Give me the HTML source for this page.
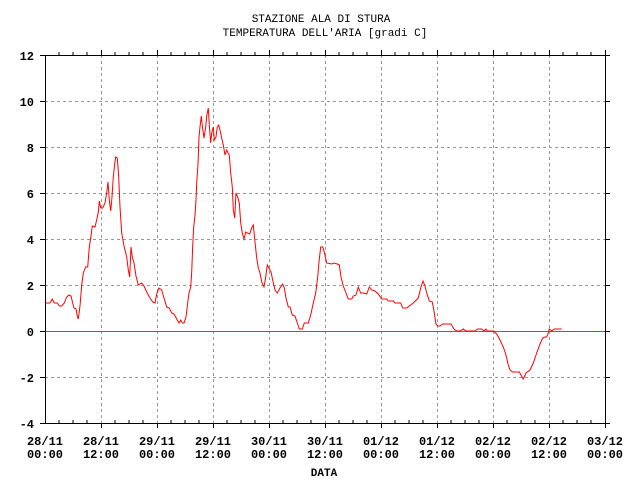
<!DOCTYPE html>
<html><head><meta charset="utf-8"><style>
html,body{margin:0;padding:0;background:#fff;}
svg{display:block;}
text{font-family:"Liberation Mono","DejaVu Sans Mono",monospace;font-size:12px;fill:#000;font-weight:bold;}
</style></head><body>
<svg width="640" height="480" viewBox="0 0 640 480" xmlns="http://www.w3.org/2000/svg">
<rect width="640" height="480" fill="#fff"/>
<text x="321" y="22" text-anchor="middle" style="font-size:11px;font-weight:normal">STAZIONE ALA DI STURA</text>
<text x="325" y="36" text-anchor="middle" style="font-size:11px;font-weight:normal">TEMPERATURA DELL'ARIA [gradi C]</text>
<g stroke="#999" stroke-width="1" stroke-dasharray="3,3">
<line x1="45" y1="101.5" x2="605" y2="101.5"/><line x1="45" y1="147.5" x2="605" y2="147.5"/>
<line x1="45" y1="193.5" x2="605" y2="193.5"/><line x1="45" y1="239.5" x2="605" y2="239.5"/>
<line x1="45" y1="285.5" x2="605" y2="285.5"/><line x1="45" y1="377.5" x2="605" y2="377.5"/>
<line x1="101.5" y1="55" x2="101.5" y2="423"/><line x1="157.5" y1="55" x2="157.5" y2="423"/>
<line x1="213.5" y1="55" x2="213.5" y2="423"/><line x1="269.5" y1="55" x2="269.5" y2="423"/>
<line x1="325.5" y1="55" x2="325.5" y2="423"/><line x1="381.5" y1="55" x2="381.5" y2="423"/>
<line x1="437.5" y1="55" x2="437.5" y2="423"/><line x1="493.5" y1="55" x2="493.5" y2="423"/>
<line x1="549.5" y1="55" x2="549.5" y2="423"/>
</g>
<line x1="45" y1="331.5" x2="605" y2="331.5" stroke="#1e78d8" stroke-width="1"/>
<g stroke="#000" stroke-width="1">
<rect x="45.5" y="55.5" width="560" height="368" fill="none"/>
<path d="M59 55v-3M73 55v-3M87 55v-3M115 55v-3M129 55v-3M143 55v-3M171 55v-3M185 55v-3M199 55v-3M227 55v-3M241 55v-3M255 55v-3M283 55v-3M297 55v-3M311 55v-3M339 55v-3M353 55v-3M367 55v-3M395 55v-3M409 55v-3M423 55v-3M451 55v-3M465 55v-3M479 55v-3M507 55v-3M521 55v-3M535 55v-3M563 55v-3M577 55v-3M591 55v-3"/>
<path d="M101.5 55v-5M157.5 55v-5M213.5 55v-5M269.5 55v-5M325.5 55v-5M381.5 55v-5M437.5 55v-5M493.5 55v-5M549.5 55v-5M605.5 55v-5"/>
<path d="M59 423v-3M73 423v-3M87 423v-3M115 423v-3M129 423v-3M143 423v-3M171 423v-3M185 423v-3M199 423v-3M227 423v-3M241 423v-3M255 423v-3M283 423v-3M297 423v-3M311 423v-3M339 423v-3M353 423v-3M367 423v-3M395 423v-3M409 423v-3M423 423v-3M451 423v-3M465 423v-3M479 423v-3M507 423v-3M521 423v-3M535 423v-3M563 423v-3M577 423v-3M591 423v-3"/>
<path d="M101.5 423v5M157.5 423v5M213.5 423v5M269.5 423v5M325.5 423v5M381.5 423v5M437.5 423v5M493.5 423v5M549.5 423v5M605.5 423v5"/>
<path d="M40 55.5h5M40 101.5h5M40 147.5h5M40 193.5h5M40 239.5h5M40 285.5h5M40 331.5h5M40 377.5h5M40 423.5h5"/>
<path d="M605 55.5h5M605 101.5h5M605 147.5h5M605 193.5h5M605 239.5h5M605 285.5h5M605 331.5h5M605 377.5h5M605 423.5h5"/>
</g>
<g text-anchor="end">
<text x="34" y="60">12</text><text x="34" y="106">10</text><text x="34" y="152">8</text>
<text x="34" y="198">6</text><text x="34" y="244">4</text><text x="34" y="290">2</text>
<text x="34" y="336">0</text><text x="34" y="382">-2</text><text x="34" y="428">-4</text>
</g>
<g text-anchor="middle">
<text x="45" y="445">28/11</text><text x="45" y="458">00:00</text>
<text x="101" y="445">28/11</text><text x="101" y="458">12:00</text>
<text x="157" y="445">29/11</text><text x="157" y="458">00:00</text>
<text x="213" y="445">29/11</text><text x="213" y="458">12:00</text>
<text x="269" y="445">30/11</text><text x="269" y="458">00:00</text>
<text x="325" y="445">30/11</text><text x="325" y="458">12:00</text>
<text x="381" y="445">01/12</text><text x="381" y="458">00:00</text>
<text x="437" y="445">01/12</text><text x="437" y="458">12:00</text>
<text x="493" y="445">02/12</text><text x="493" y="458">00:00</text>
<text x="549" y="445">02/12</text><text x="549" y="458">12:00</text>
<text x="605" y="445">03/12</text><text x="605" y="458">00:00</text>
<text x="324" y="476" style="font-size:11px">DATA</text>
</g>
<polyline fill="none" stroke="#f00" stroke-width="1" points="45.7,303 50,303 52.3,299 54.3,303 57.3,303 59.3,306 61.7,306 64.3,303 66.7,297 69,295 71,296 72.7,303 74,308 76,309 77.3,316 78.3,319 80,306 81.7,285 83.3,273 85.7,267 87.7,267 89.3,247 90.7,238 92.3,226 95,227 96.7,220 98.3,212 99.3,201 100.7,208 102.7,208 105,203 106.7,193 108,182 109.3,200 110.7,211 112,197 113.3,177 114.7,164 115.7,157 117.3,158 118.7,177 120,207 121.7,233 124,246 126.7,257 128.3,270 129.7,277 131,247 132.3,257 134,263 136,276 138.3,285 141.7,283 144,286 146.7,292 150,298 152.7,302 155,303 156.7,294 159,288 161.7,290 164,298 166.7,307 169.3,308 171.7,313 174,314 176.7,319 179,323 180.7,320 182.3,323 184,323 186,317 187.3,306 189,293 190.7,287 191.7,272 192.7,246 193.7,227 195,215 196,200 196.7,183 198,164 199,137 200,127 201.3,116 202.3,126 204,138 205.7,127 206.7,116 208.3,108 209.3,125 210.7,143 211.7,133 213.3,127 214.3,140 216,137 217.3,127 218.7,125 220,130 221.7,138 223.3,145 225,155 226.7,150 228,153 229.3,155 230.7,173 232.3,187 233.3,210 234.7,218 236,193 237.7,197 239.3,203 240.7,223 242.3,233 244,239 245.7,232 247.3,233 249.7,234 250,233 251.7,228 253.3,225 255,242 256.7,258 258.3,268 260,273 261.7,282 264,287 265.7,277 267.3,265 269,268 271,272 272.7,280 275,290 277.3,293 280,288 282.7,284 284.3,288 286,298 288.3,307 290,307 292.3,315 295,316 297.3,323 299.3,329 302.3,329 304.3,323 308.3,323 310.7,315 313.3,303 315.7,293 317.7,277 319,262 320.7,247 322.7,247 324.3,252 326.7,263 331.7,264 334,263 337.3,264 339.3,265 341,277 343.3,286 346,293 348.3,299 351.7,299 353.3,296 356,295 358.3,287 360.7,293 363.3,293 366.7,294 369.3,287 371.7,290 375,291 378.3,294 381.7,299 386.7,299 388.3,301 393.3,301 395,303 400.7,303 402.7,308 406.7,308 409.3,306 413.3,303 418.3,298 420.7,288 423,281 425,286 426.7,293 429.3,301 432.3,302 434.3,313 436,324 437.7,326 440,326 442.7,324 451,324 454,329 456.7,331 460,331 463.3,329 466,331 475,331 477.7,329 481.7,329 484,331 486,329 487.3,331 493.3,331 496.7,334 500,340 503.3,347 506,355 508.3,365 510,370 512.7,372 519.3,372 521,375 523.3,379 526,373 530,370 533.3,363 536.7,353 540,344 542.7,338 545,337 546.7,337 548.3,333 549.3,329 551.7,331 554.3,329 561.7,329"/>
</svg>
</body></html>
